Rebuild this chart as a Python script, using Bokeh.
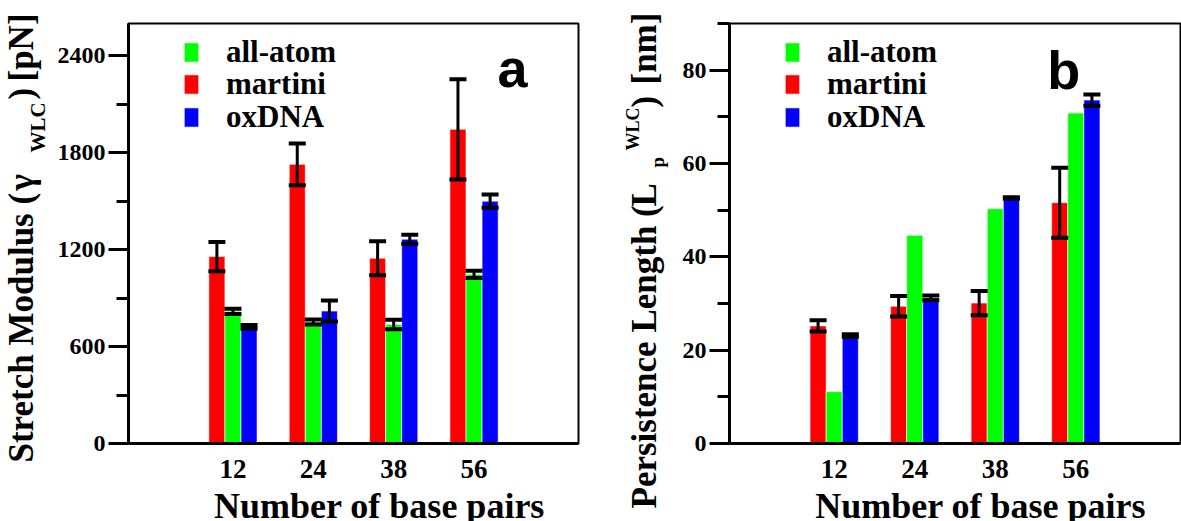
import math
from bokeh.plotting import figure
from bokeh.models import (ColumnDataSource, FactorRange, Range1d, FixedTicker,
                          Whisker, TeeHead, Legend, LegendItem, Label)
from bokeh.transform import dodge
from bokeh.layouts import row, column
from bokeh.embed import file_html
from bokeh.resources import INLINE
from bokeh.core.properties import value

# ---------------- data ----------------
base_pairs = ["12", "24", "38", "56"]
series = ["all-atom", "martini", "oxDNA"]

# Stretch modulus (gamma_WLC) [pN]
stretch_allatom = [818, 752, 737, 1047]
stretch_allatom_err = [16, 15, 29, 23]
stretch_martini = [1157, 1728, 1147, 1945]
stretch_martini_err = [91, 129, 105, 310]
stretch_oxdna = [722, 820, 1265, 1500]
stretch_oxdna_err = [11, 65, 28, 41]

# Persistence length (Lp^WLC) [nm]
lp_allatom = [11.1, 44.6, 50.3, 70.8]
lp_allatom_err = [0, 0, 0, 0]
lp_martini = [25.2, 29.4, 30.1, 51.6]
lp_martini_err = [1.2, 2.2, 2.6, 7.5]
lp_oxdna = [23.1, 31.2, 52.6, 73.6]
lp_oxdna_err = [0.3, 0.5, 0.15, 1.2]

stretch_ticks = [0, 600, 1200, 1800, 2400]
stretch_minor = [300, 900, 1500, 2100]
lp_ticks = [0, 20, 40, 60, 80]
lp_minor = [10, 30, 50, 70, 90]

x_title = "Number of base pairs"

colors = {"all-atom": "#00ff00", "martini": "#ff0000", "oxDNA": "#0000ff"}
offsets = {"martini": -0.2, "all-atom": 0.0, "oxDNA": 0.2}

SERIF = "Liberation Serif"
TOTAL_H = 521
PANEL_H = 490
BASE_SHIFT = 0.345  # em offset of Bokeh's alphabetic anchor vs. drawn baseline
LEGEND_Y = [373, 341, 308]  # bottom of each legend row above the frame bottom (px)


def text_fig(w, h, items):
    """A bare figure whose data units are pixels, used only to hold title texts."""
    f = figure(width=w, height=h, x_range=Range1d(0, w), y_range=Range1d(0, h),
               x_axis_type=None, y_axis_type=None, min_border=0,
               toolbar_location=None, output_backend="svg")
    f.outline_line_color = None
    f.background_fill_color = None
    f.border_fill_color = None
    for txt, x, y, size, ang, align in items:
        f.text(x=[x], y=[y], text=[txt], angle=ang, text_align=align,
               text_baseline="alphabetic", text_font=value(SERIF),
               text_font_style="bold", text_font_size="%dpx" % size,
               text_color="black")
    return f


def make_panel(vals, errs, y_end, ticks, minor, width, left, right, letter, letter_xy):
    p = figure(x_range=FactorRange(factors=base_pairs, range_padding=0.8,
                                   range_padding_units="absolute"),
               y_range=Range1d(0, y_end), width=width, height=PANEL_H,
               output_backend="svg", toolbar_location=None,
               min_border_left=left, min_border_right=right,
               min_border_top=23, min_border_bottom=PANEL_H - 443)
    p.xgrid.visible = False
    p.ygrid.visible = False
    p.outline_line_color = "black"
    p.outline_line_width = 2

    renderers = {}
    for s in ["martini", "all-atom", "oxDNA"]:
        v = vals[s]
        e = errs[s]
        src = ColumnDataSource(dict(x=base_pairs, top=v))
        r = p.vbar(x=dodge("x", offsets[s], range=p.x_range), top="top", width=0.2,
                   source=src, fill_color=colors[s], line_color="white",
                   line_width=1, line_alpha=0.6)
        renderers[s] = r
        xs = [b for b, ee in zip(base_pairs, e) if ee > 0]
        if xs:
            up = [vv + ee for vv, ee in zip(v, e) if ee > 0]
            lo = [vv - ee for vv, ee in zip(v, e) if ee > 0]
            wsrc = ColumnDataSource(dict(x=xs, upper=up, lower=lo))
            w = Whisker(source=wsrc, base=dodge("x", offsets[s], range=p.x_range),
                        upper="upper", lower="lower", dimension="height",
                        line_color="black", line_width=3, level="annotation",
                        upper_head=TeeHead(size=17, line_width=4, line_color="black"),
                        lower_head=TeeHead(size=17, line_width=4, line_color="black"))
            p.add_layout(w)

    ya = p.yaxis[0]
    ya.ticker = FixedTicker(ticks=ticks, minor_ticks=minor)
    ya.axis_line_width = 3
    ya.major_tick_line_width = 3
    ya.minor_tick_line_width = 3
    ya.major_tick_out = 20
    ya.major_tick_in = 0
    ya.minor_tick_out = 12
    ya.minor_tick_in = 0
    ya.major_label_text_font = SERIF
    ya.major_label_text_font_style = "bold"
    ya.major_label_text_font_size = "24px"
    ya.major_label_text_color = "black"
    ya.major_label_standoff = 3

    xa = p.xaxis[0]
    xa.axis_line_width = 3
    xa.major_tick_line_color = None
    xa.minor_tick_line_color = None
    xa.major_tick_out = 0
    xa.major_tick_in = 0
    xa.major_label_text_font = SERIF
    xa.major_label_text_font_style = "bold"
    xa.major_label_text_font_size = "27px"
    xa.major_label_text_color = "black"
    xa.major_label_standoff = 16

    # one single-row legend per series so that the row pitch matches the reference
    for s, ly in zip(series, LEGEND_Y):
        legend = Legend(items=[LegendItem(label=s, renderers=[renderers[s]])],
                        location=(54, ly), margin=0, padding=0, spacing=0,
                        glyph_width=18, glyph_height=24, label_standoff=26,
                        label_height=24,
                        border_line_alpha=0, background_fill_alpha=0,
                        label_text_font=SERIF, label_text_font_style="bold",
                        label_text_font_size="31px", label_text_color="black")
        p.add_layout(legend)

    p.add_layout(Label(x=letter_xy[0], y=letter_xy[1], x_units="screen", y_units="screen",
                       text=letter, text_align="left", text_baseline="alphabetic",
                       text_font="Liberation Sans", text_font_style="bold",
                       text_font_size="54px", text_color="black"))
    return p


# page geometry (reference pixels)
FB = 442.7
L1, R1 = 128.0, 578.0
L2, R2 = 729.3, 1180.0
YT1_W = 54
P1_W = 590 - YT1_W
YT2_W = 80
P2_W = 1181 - 590 - YT2_W
XT_H = TOTAL_H - PANEL_H
PI2 = math.pi / 2


def rot(txt, page_x_baseline, page_y_start, size, x0):
    # rotated piece: anchor shifted so that the drawn baseline lands on page_x_baseline
    return (txt, page_x_baseline - BASE_SHIFT * size - x0, TOTAL_H - page_y_start,
            size, PI2, "left")


yt1 = text_fig(YT1_W, TOTAL_H, [
    rot("Stretch Modulus (", 33, 462, 35, 0),
    rot("γ", 33, 190, 35, 0),
    rot("WLC", 45, 152, 21, 0),
    rot(")", 33, 99, 35, 0),
    rot("[pN]", 33, 81, 35, 0),
])
yt2 = text_fig(YT2_W, TOTAL_H, [
    rot("Persistence Length (", 656, 508, 35, 590),
    rot("L", 656, 206, 35, 590),
    rot("p", 664, 167, 19, 590),
    rot("WLC", 639, 150, 18, 590),
    rot(")", 656, 107, 35, 590),
    rot("[nm]", 656, 84, 35, 590),
])
TITLE_BASE = 3  # px above the page bottom
xt1 = text_fig(P1_W, XT_H, [(x_title, (L1 + R1) / 2 - YT1_W, TITLE_BASE + BASE_SHIFT * 36, 36, 0, "center")])
xt2 = text_fig(P2_W, XT_H, [(x_title, (L2 + R2) / 2 - 590 - YT2_W, TITLE_BASE + BASE_SHIFT * 36, 36, 0, "center")])

p1 = make_panel({"all-atom": stretch_allatom, "martini": stretch_martini, "oxDNA": stretch_oxdna},
                {"all-atom": stretch_allatom_err, "martini": stretch_martini_err, "oxDNA": stretch_oxdna_err},
                2600, stretch_ticks, stretch_minor, P1_W, int(L1 - YT1_W), int(590 - R1),
                "a", (497 - L1, FB - 87 + 20))
p2 = make_panel({"all-atom": lp_allatom, "martini": lp_martini, "oxDNA": lp_oxdna},
                {"all-atom": lp_allatom_err, "martini": lp_martini_err, "oxDNA": lp_oxdna_err},
                90, lp_ticks, lp_minor, P2_W, int(round(L2 - 590 - YT2_W)), int(1181 - R2),
                "b", (1047 - L2, FB - 89 + 20))

layout = row(yt1, column(p1, xt1), yt2, column(p2, xt2))
open("out.html", "w").write(file_html(layout, INLINE))
